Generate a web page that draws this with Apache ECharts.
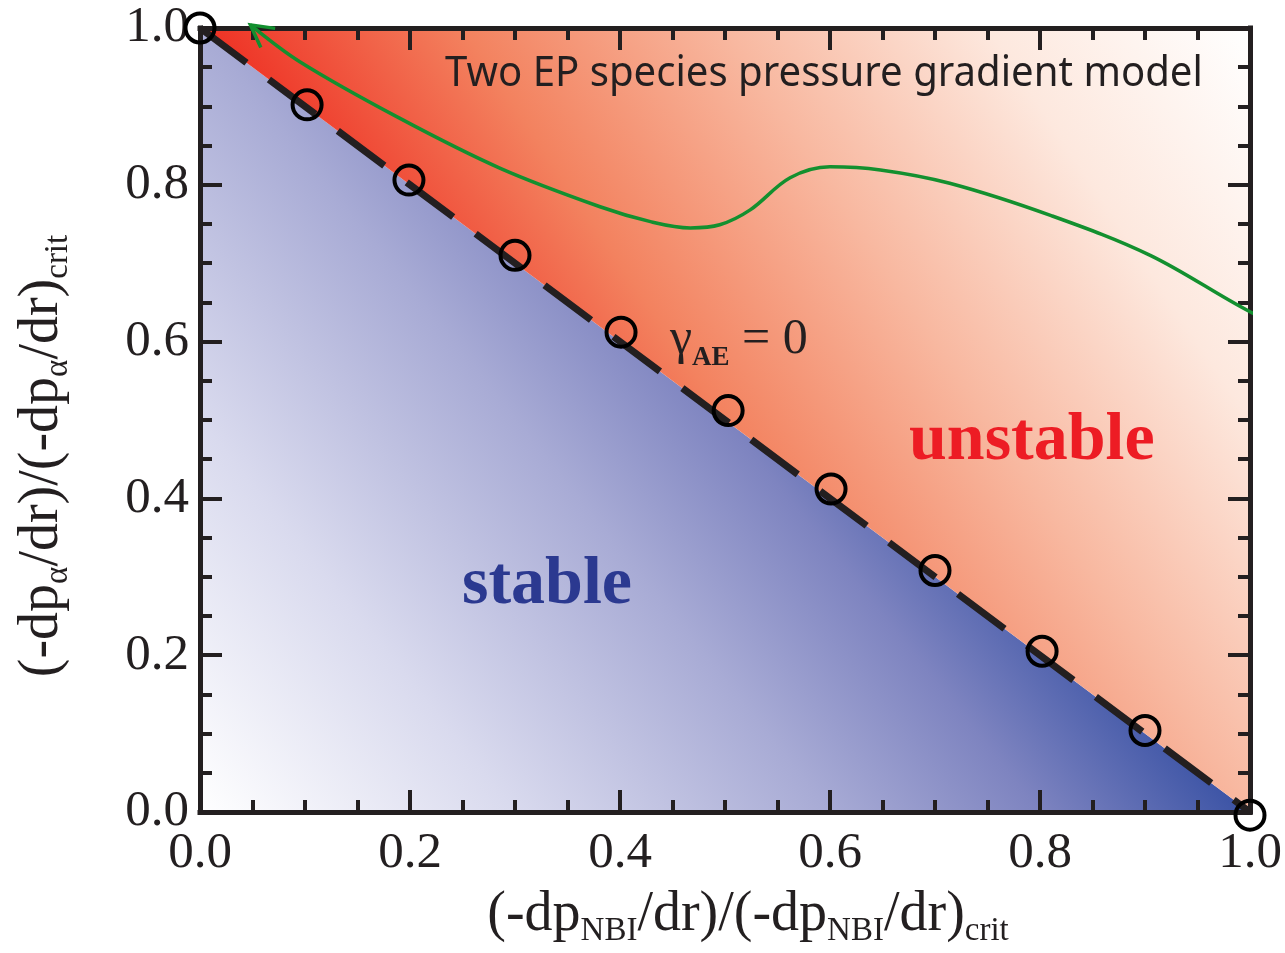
<!DOCTYPE html>
<html><head><meta charset="utf-8">
<script src="https://cdn.jsdelivr.net/npm/echarts@6/dist/echarts.min.js"></script>
<style>html,body{margin:0;padding:0;background:#fff}#c{width:1285px;height:953px}</style>
</head><body><div id="c"></div>
<script>
// ---- data ----
const xTickLabels = ['0.0', '0.2', '0.4', '0.6', '0.8', '1.0'];
const yTickLabels = ['0.0', '0.2', '0.4', '0.6', '0.8', '1.0'];
const stableRegion = [[0, 0], [0, 1], [1, 0]];
const unstableRegion = [[0, 1], [1, 1], [1, 0]];
const boundaryX = [0, 1];
const boundaryY = [1, 0];
const gammaZeroX = [0.0, 0.102, 0.199, 0.300, 0.401, 0.503, 0.601, 0.700, 0.802, 0.900, 1.0];
const gammaZeroY = [1.0, 0.902, 0.806, 0.710, 0.612, 0.512, 0.412, 0.308, 0.205, 0.104, -0.004];
const trajectoryX = [0.048, 0.095, 0.190, 0.286, 0.381, 0.429, 0.467, 0.495, 0.524, 0.562, 0.600, 0.648, 0.714, 0.810, 0.905, 1.0, 1.033];
const trajectoryY = [1.004, 0.957, 0.885, 0.821, 0.772, 0.753, 0.745, 0.749, 0.768, 0.809, 0.823, 0.819, 0.802, 0.761, 0.710, 0.638, 0.621];

const INK = '#231f20';
const SERIF = '"Liberation Serif", "Times New Roman", serif';

const chart = echarts.init(document.getElementById('c'), null, {renderer: 'canvas'});

function axisCommon(extra) {
  return Object.assign({
    type: 'value', min: 0, max: 1, interval: 0.2,
    axisLine: {show: true, onZero: false, lineStyle: {color: INK, width: 5, cap: 'square'}},
    axisTick: {show: true, inside: true, length: 22, lineStyle: {color: INK, width: 4}},
    minorTick: {show: true, splitNumber: 4, length: 12, lineStyle: {color: INK, width: 4}},
    splitLine: {show: false}, minorSplitLine: {show: false}
  }, extra);
}

const richName = {
  m: {fontFamily: SERIF, fontSize: 56, color: INK, lineHeight: 66},
  s: {fontFamily: SERIF, fontSize: 33, color: INK, lineHeight: 10, verticalAlign: 'bottom'}
};

const regionSeries = (pts, gradient) => ({
  type: 'custom', z: -1, silent: true, clip: false,
  data: [0],
  renderItem: function (params, api) {
    const points = pts.map(p => api.coord(p));
    return {type: 'polygon', shape: {points: points}, style: {fill: gradient, stroke: null}};
  }
});

const blueGrad = new echarts.graphic.LinearGradient(0, 1, 0.608, 0.346, [
  {offset: 0, color: '#ffffff'},
  {offset: 0.3, color: '#d9daee'},
  {offset: 0.6, color: '#a8abd5'},
  {offset: 0.8, color: '#7e84c0'},
  {offset: 1, color: '#3b53a5'}
]);
const redGrad = new echarts.graphic.LinearGradient(1, 0, 0.310, 0.619, [
  {offset: 0, color: '#ffffff'},
  {offset: 0.25, color: '#fde8de'},
  {offset: 0.5, color: '#f8b8a0'},
  {offset: 0.75, color: '#f3825f'},
  {offset: 1, color: '#ee3124'}
]);

const option = {
  animation: false,
  backgroundColor: '#ffffff',
  grid: {left: 200, right: 35, top: 28, bottom: 141},
  xAxis: [
    axisCommon({
      position: 'bottom',
      axisLabel: {fontFamily: SERIF, fontSize: 51, color: INK, margin: 16,
        formatter: (v, i) => xTickLabels[i]},
      name: '{m|(-dp}{s|NBI}{m|/dr)/(-dp}{s|NBI}{m|/dr)}{s|crit}',
      nameLocation: 'middle', nameGap: 70,
      nameTextStyle: {rich: richName, padding: [0, 0, 0, 46]}
    }),
    axisCommon({position: 'top', axisLabel: {show: false}})
  ],
  yAxis: [
    axisCommon({
      position: 'left',
      axisLabel: {fontFamily: SERIF, fontSize: 51, color: INK, margin: 11,
        formatter: (v, i) => yTickLabels[i]},
      name: '{m|(-dp}{s|α}{m|/dr)/(-dp}{s|α}{m|/dr)}{s|crit}',
      nameLocation: 'middle', nameGap: 125, nameRotate: 90,
      nameTextStyle: {rich: richName, padding: [0, 72, 0, 0]}
    }),
    axisCommon({position: 'right', axisLabel: {show: false}})
  ],
  series: [
    regionSeries(stableRegion, blueGrad),
    regionSeries(unstableRegion, redGrad),
    {
      type: 'line', data: boundaryX.map((x, i) => [x, boundaryY[i]]),
      symbol: 'none', clip: false, z: 3,
      lineStyle: {color: INK, width: 7, type: [58, 28], opacity: 1}
    },
    {
      type: 'line', data: trajectoryX.map((x, i) => [x, trajectoryY[i]]),
      symbol: 'none', smooth: 0.35, clip: false, z: 5,
      lineStyle: {color: '#13902f', width: 3.5}
    },
    {
      type: 'custom', z: 5, clip: false, silent: true, data: [0],
      renderItem: function (params, api) {
        const tip = api.coord([trajectoryX[0], trajectoryY[0]]);
        const nxt = api.coord([trajectoryX[1], trajectoryY[1]]);
        const ang = Math.atan2(nxt[1] - tip[1], nxt[0] - tip[0]);
        const L = 25, a = 0.5;
        const p1 = [tip[0] + L * Math.cos(ang - a), tip[1] + L * Math.sin(ang - a)];
        const p2 = [tip[0] + L * Math.cos(ang + a), tip[1] + L * Math.sin(ang + a)];
        return {type: 'polyline', shape: {points: [p1, tip, p2]},
          style: {stroke: '#13902f', lineWidth: 3.5, fill: null}};
      }
    },
    {
      type: 'scatter', data: gammaZeroX.map((x, i) => [x, gammaZeroY[i]]),
      symbol: 'circle', symbolSize: 29, clip: false, z: 6,
      itemStyle: {color: 'rgba(255,255,255,0)', borderColor: '#000000', borderWidth: 4, opacity: 1}
    }
  ],
  graphic: [
    {type: 'text', x: 445, y: 74, scaleX: 0.955, z: 10,
      style: {text: 'Two EP species pressure gradient model', fontFamily: '"Noto Sans", sans-serif',
        fontSize: 42, fill: INK, align: 'left', verticalAlign: 'middle'}},
    {type: 'text', x: 462, y: 585, z: 10,
      style: {text: 'stable', fontFamily: SERIF, fontWeight: 'bold', fontSize: 68,
        fill: '#2b3990', align: 'left', verticalAlign: 'middle'}},
    {type: 'text', x: 909, y: 441, z: 10,
      style: {text: 'unstable', fontFamily: SERIF, fontWeight: 'bold', fontSize: 68,
        fill: '#ed1c24', align: 'left', verticalAlign: 'middle'}},
    {type: 'text', x: 670, y: 308, z: 10,
      style: {text: '{g|γ}{s|AE}{g| = 0}', align: 'left', verticalAlign: 'top',
        rich: {
          g: {fontFamily: SERIF, fontSize: 50, fill: INK, color: INK, lineHeight: 64},
          s: {fontFamily: SERIF, fontSize: 27, fontWeight: 'bold', fill: INK, color: INK, lineHeight: 14, verticalAlign: 'bottom'}
        }}}
  ]
};
chart.setOption(option);
</script>
</body></html>
